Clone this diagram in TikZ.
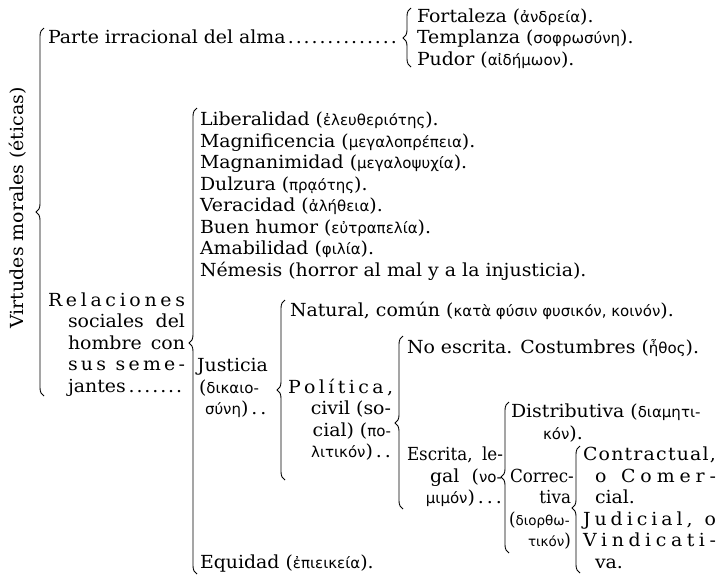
\documentclass[tikz,border=0pt]{standalone}
\usepackage{fontspec}
\setmainfont{DejaVu Serif}[FakeStretch=1.05]
\newfontfamily\cond{DejaVu Serif}[FakeStretch=0.93]
\newfontfamily\grfont{DejaVu Sans}
\usetikzlibrary{decorations.pathreplacing}
\newcommand\G[1]{{\grfont\fontsize{15}{16}\selectfont #1}}
\newcommand\Gs[1]{{\grfont\fontsize{13.5}{14}\selectfont #1}}
\newcommand\bracedraw[4]{% x of vertical, top, bottom, tip
  \pgfmathsetmacro\asp{(#3-#4)/(#3-#2)}%
  \draw[brc=\asp] (#1+4,#3) -- (#1+4,#2);}
\tikzset{
  txt/.style={anchor=base west, inner sep=0pt, outer sep=0pt, font=\fontsize{18}{20}\selectfont},
  txtr/.style={anchor=base east, inner sep=0pt, outer sep=0pt, font=\fontsize{18}{20}\selectfont},
  ctxt/.style={txt, font=\cond\fontsize{18}{20}\selectfont},
  ctxtr/.style={txtr, font=\cond\fontsize{18}{20}\selectfont},
  brc/.style={decorate, decoration={brace, amplitude=8pt, aspect=#1}, line width=0.9pt},
}
\begin{document}
\begin{tikzpicture}[x=1pt,y=-1pt]
\useasboundingbox (0,0) rectangle (725,579);
% left title
\node[rotate=90, inner sep=0pt, font=\fontsize{18}{20}\selectfont] (virt) at (18,208) {Virtudes morales (éticas)};
\bracedraw{40}{28}{396}{212}
% Parte irracional
\node[txt] (parte) at (48,43.5) {\makebox[351pt][l]{Parte irracional del alma\dotfill}};
\bracedraw{407}{8}{67}{38}
\node[txt] (fort) at (417,22) {Fortaleza (\G{ἀνδρεία}).};
\node[txt] (temp) at (417,43.5) {Templanza (\G{σοφρωσύνη}).};
\node[txt] (pud) at (417,65) {Pudor (\G{αἰδήμωον}).};
% Relaciones
\node[txt] (rel1) at (48,306) {\makebox[137pt][s]{R\hfil e\hfil l\hfil a\hfil c\hfil i\hfil o\hfil n\hfil e\hfil s}};
\node[txt] (rel2) at (68,327.5) {\makebox[117pt][s]{sociales\hfil del}};
\node[txt] (rel3) at (68,349) {\makebox[117pt][s]{hombre\hfil con}};
\node[txt] (rel4) at (68,370.5) {\makebox[117pt][s]{s\hfil u\hfil s\hfil\hfil\hfil s\hfil e\hfil m\hfil e\hfil -}};
\node[txt] (rel5) at (68,392) {\makebox[117pt][l]{jantes\dotfill}};
\bracedraw{193}{108}{574}{343}
\node[txt] (lib) at (200,125.5) {Liberalidad (\G{ἐλευθεριότης}).};
\node[txt] (mag) at (200,147) {Magnificencia (\G{μεγαλοπρέπεια}).};
\node[txt] (mgn) at (200,168.5) {Magnanimidad (\G{μεγαλοψυχία}).};
\node[txt] (dul) at (200,190) {Dulzura (\G{πρᾳότης}).};
\node[txt] (ver) at (200,211.5) {Veracidad (\G{ἀλήθεια}).};
\node[txt] (bue) at (200,233) {Buen humor (\G{εὐτραπελία}).};
\node[txt] (ama) at (200,254.5) {Amabilidad (\G{φιλία}).};
\node[txt] (nem) at (200,276) {Némesis (horror al mal y a la injusticia).};
\node[txt] (jus1) at (197,371) {Justicia};
\node[txt] (jus2) at (199,393) {(\G{δικαιο-}};
\node[txt] (jus3) at (205,414.5) {\G{σύνη})\,.\,.};
\node[txt] (equ) at (200,568) {Equidad (\G{ἐπιεικεία}).};
% Justicia
\bracedraw{281}{300}{480}{390}
\node[txt] (nat) at (290,316) {Natural, común (\G{κατὰ φύσιν φυσικόν, κοινόν}).};
\node[txt] (pol1) at (288,393) {\makebox[105pt][s]{P\hfil o\hfil l\hfil í\hfil t\hfil i\hfil c\hfil a\hfil ,}};
\node[txtr] (pol2) at (391,414.5) {civil (so-};
\node[txtr] (pol3) at (391,436) {cial) (\G{πο-}};
\node[txtr] (pol4) at (391,457.5) {\G{λιτικόν})\,.\,.};
% Politica
\bracedraw{399}{336}{509}{423}
\node[txt] (noe) at (407,353) {No escrita. Costumbres (\G{ἦθος}).};
\node[ctxt] (esc1) at (407,460.5) {\makebox[96pt][s]{Escrita,\hfil le-}};
\node[txt] (esc2) at (430,482) {\makebox[72pt][s]{gal\hfil (\G{νο-}}};
\node[txtr] (esc3) at (502,503.5) {\G{μιμόν})\,.\,.\,.};
% Escrita
\bracedraw{505}{402}{553}{477}
\node[txt] (dis1) at (511,417.5) {Distributiva (\G{διαμητι-}};
\node[txt] (dis2) at (543,439) {\G{κόν}).};
\node[ctxt] (cor1) at (510,482) {Correc-};
\node[ctxtr] (cor2) at (571,503.5) {tiva};
\node[ctxt] (cor3) at (509,525) {(\Gs{διορθω-}};
\node[ctxtr] (cor4) at (571,546.5) {\Gs{τικόν})};
% Correctiva
\bracedraw{576}{446}{573}{508}
\node[txt] (con1) at (583,460.5) {\makebox[133pt][s]{C\hfil o\hfil n\hfil t\hfil r\hfil a\hfil c\hfil t\hfil u\hfil a\hfil l\hfil ,}};
\node[txt] (con2) at (595,482) {\makebox[121pt][s]{o\hfil\hfil\hfil C\hfil o\hfil m\hfil e\hfil r\hfil -}};
\node[txt] (con3) at (595,503.5) {cial.};
\node[txt] (jud1) at (583,525) {\makebox[133pt][s]{J\hfil u\hfil d\hfil i\hfil c\hfil i\hfil a\hfil l\hfil ,\hfil\hfil\hfil o}};
\node[txt] (jud2) at (583,546.5) {\makebox[133pt][s]{V\hfil i\hfil n\hfil d\hfil i\hfil c\hfil a\hfil t\hfil i\hfil -}};
\node[txt] (jud3) at (595,568) {va.};
\end{tikzpicture}
\end{document}
